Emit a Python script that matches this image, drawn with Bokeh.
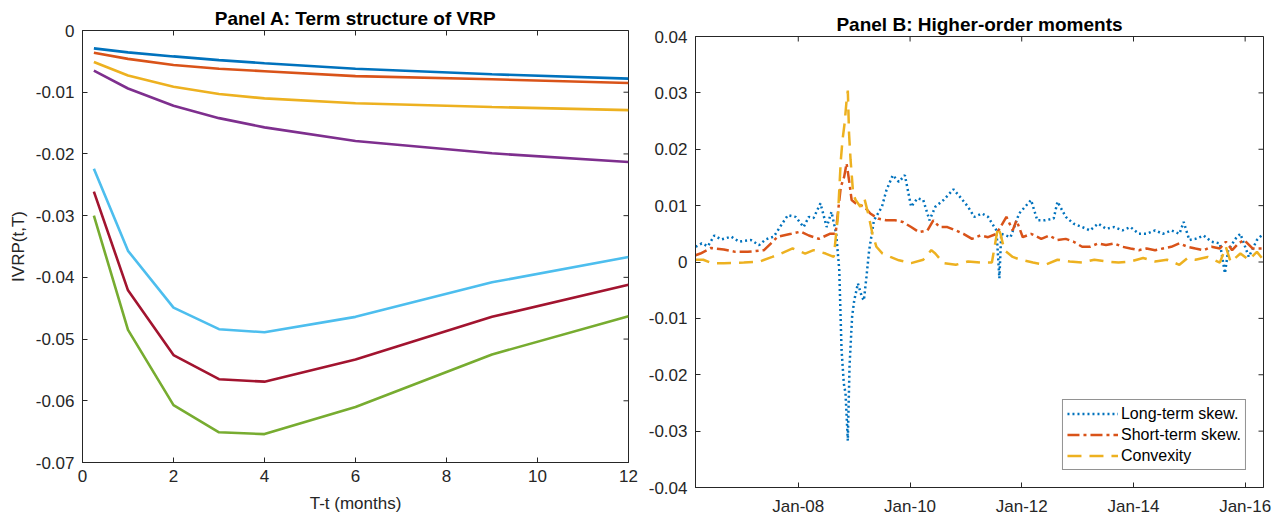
import math
import pandas as pd
from bokeh.plotting import figure
from bokeh.layouts import row, column
from bokeh.models import (FixedTicker, CustomJSTickFormatter, Range1d, Legend, LegendItem)
from bokeh.embed import file_html
from bokeh.resources import INLINE

FONT = "Liberation Sans"
INK = "#262626"

# ---------------- Panel A: term structure of the implied VRP ----------------
maturities = [0.25, 1, 2, 3, 4, 6, 9, 12]
ivrp_1 = [-0.0029, -0.00355, -0.0042, -0.0048, -0.0053, -0.0062, -0.0071, -0.0078]
ivrp_2 = [-0.0036, -0.0046, -0.0056, -0.0062, -0.0066, -0.0074, -0.0079, -0.0085]
ivrp_3 = [-0.0051, -0.0073, -0.0091, -0.0103, -0.0110, -0.0118, -0.0124, -0.0129]
ivrp_4 = [-0.0065, -0.0094, -0.0122, -0.0142, -0.0157, -0.0179, -0.0199, -0.0213]
ivrp_5 = [-0.0224, -0.0357, -0.0449, -0.0484, -0.0489, -0.0464, -0.0408, -0.0367]
ivrp_6 = [-0.0261, -0.0421, -0.0526, -0.0565, -0.0569, -0.0533, -0.0464, -0.0412]
ivrp_7 = [-0.0300, -0.0485, -0.0607, -0.0651, -0.0654, -0.0610, -0.0525, -0.0463]
curve_colors = ["#0072BD", "#D95319", "#EDB120", "#7E2F8E", "#4DBEEE", "#A2142F", "#77AC30"]
month_ticks = [0, 2, 4, 6, 8, 10, 12]
ivrp_ticks = [-0.07, -0.06, -0.05, -0.04, -0.03, -0.02, -0.01, 0.0]

# ---------------- Panel B: higher-order moments ----------------
lt_dates = ["2006-03-01", "2006-04-10", "2006-05-20", "2006-07-01", "2006-08-15", "2006-10-20",
            "2006-12-10", "2007-02-25", "2007-04-20", "2007-06-01", "2007-07-25", "2007-09-20",
            "2007-10-25", "2007-12-15", "2008-02-05", "2008-03-10", "2008-04-10", "2008-05-25",
            "2008-07-05", "2008-08-05", "2008-09-05", "2008-09-25", "2008-10-10", "2008-10-25",
            "2008-11-05", "2008-11-20", "2008-12-01", "2008-12-18", "2009-01-01", "2009-01-25",
            "2009-02-20", "2009-03-05", "2009-03-22", "2009-04-08", "2009-05-10", "2009-07-01",
            "2009-07-30", "2009-09-10", "2009-10-20", "2009-11-28", "2010-01-08", "2010-02-18",
            "2010-03-28", "2010-05-08", "2010-06-15", "2010-08-08", "2010-10-12", "2010-11-22",
            "2011-01-15", "2011-02-25", "2011-04-16", "2011-05-26", "2011-07-20", "2011-08-08",
            "2011-08-20", "2011-10-20", "2011-12-15", "2012-03-02", "2012-04-12", "2012-06-02",
            "2012-07-28", "2012-08-22", "2012-10-15", "2012-12-05", "2013-01-30", "2013-03-22",
            "2013-05-15", "2013-07-05", "2013-08-28", "2013-10-20", "2013-12-12", "2014-02-05",
            "2014-03-28", "2014-05-22", "2014-07-12", "2014-09-05", "2014-10-28", "2014-11-25",
            "2015-01-01", "2015-02-10", "2015-04-05", "2015-05-26", "2015-07-20", "2015-08-22",
            "2015-09-12", "2015-11-06", "2015-12-01", "2016-01-25", "2016-03-18", "2016-04-28"]
lt_skew = [0.0027, 0.0033, 0.0028, 0.0047, 0.0040, 0.0045,
           0.0036, 0.0039, 0.0030, 0.0040, 0.0045, 0.0069,
           0.0083, 0.0080, 0.0062, 0.0080, 0.0078, 0.0104,
           0.0062, 0.0089, 0.0050, -0.0014, -0.0156, -0.0216,
           -0.0233, -0.0317, -0.0186, -0.0097, -0.0068, -0.0038,
           -0.0062, -0.0068, -0.0026, 0.0020, 0.0074, 0.0098,
           0.0127, 0.0154, 0.0142, 0.0154, 0.0098, 0.0113,
           0.0110, 0.0074, 0.0098, 0.0110, 0.0129, 0.0116,
           0.0098, 0.0080, 0.0086, 0.0080, 0.0056, -0.0029,
           0.0050, 0.0044, 0.0086, 0.0110, 0.0074, 0.0074,
           0.0077, 0.0107, 0.0080, 0.0068, 0.0062, 0.0056,
           0.0068, 0.0059, 0.0062, 0.0056, 0.0062, 0.0050,
           0.0050, 0.0056, 0.0050, 0.0056, 0.0050, 0.0071,
           0.0039, 0.0041, 0.0047, 0.0036, 0.0033, -0.0020,
           0.0021, 0.0044, 0.0050, 0.0009, 0.0039, 0.0050]

st_dates = ["2006-03-01", "2006-04-01", "2006-06-10", "2006-09-01", "2006-11-15", "2007-02-05",
            "2007-05-22", "2007-08-20", "2007-11-15", "2008-01-18", "2008-03-10", "2008-05-15",
            "2008-07-25", "2008-09-01", "2008-10-05", "2008-10-27", "2008-11-12", "2008-11-28",
            "2008-12-15", "2009-01-10", "2009-03-08", "2009-04-16", "2009-06-06", "2009-07-30",
            "2009-09-25", "2009-11-15", "2010-01-08", "2010-02-28", "2010-04-25", "2010-06-02",
            "2010-07-12", "2010-09-02", "2010-10-27", "2010-12-16", "2011-02-10", "2011-04-05",
            "2011-05-26", "2011-07-20", "2011-09-23", "2011-11-03", "2011-11-28", "2012-01-08",
            "2012-03-02", "2012-05-08", "2012-06-28", "2012-08-22", "2012-10-15", "2012-12-05",
            "2013-01-30", "2013-03-22", "2013-05-15", "2013-07-05", "2013-08-28", "2013-10-20",
            "2013-12-12", "2014-02-05", "2014-03-28", "2014-05-22", "2014-07-12", "2014-09-05",
            "2014-10-28", "2014-12-20", "2015-02-10", "2015-04-05", "2015-05-26", "2015-07-20",
            "2015-08-28", "2015-10-08", "2015-11-18", "2015-12-25", "2016-02-18", "2016-04-28"]
st_skew = [0.0012, 0.0015, 0.0025, 0.0022, 0.0018, 0.0018,
           0.0021, 0.0045, 0.0050, 0.0054, 0.0047, 0.0041,
           0.0050, 0.0050, 0.0133, 0.0151, 0.0175, 0.0145,
           0.0110, 0.0104, 0.0098, 0.0086, 0.0077, 0.0074,
           0.0074, 0.0071, 0.0062, 0.0053, 0.0056, 0.0074,
           0.0062, 0.0062, 0.0056, 0.0050, 0.0041, 0.0047,
           0.0044, 0.0050, 0.0080, 0.0056, 0.0074, 0.0044,
           0.0050, 0.0041, 0.0047, 0.0039, 0.0041, 0.0036,
           0.0027, 0.0027, 0.0033, 0.0030, 0.0033, 0.0027,
           0.0024, 0.0021, 0.0024, 0.0021, 0.0024, 0.0027,
           0.0033, 0.0027, 0.0024, 0.0021, 0.0027, 0.0024,
           0.0036, 0.0021, 0.0033, 0.0039, 0.0024, 0.0024]

cx_dates = ["2006-03-01", "2006-04-20", "2006-06-15", "2006-09-01", "2007-01-10", "2007-04-25",
            "2007-07-15", "2007-09-10", "2007-11-25", "2008-02-15", "2008-04-10", "2008-06-28",
            "2008-08-20", "2008-09-16", "2008-10-05", "2008-10-16", "2008-10-30", "2008-11-12",
            "2008-11-20", "2008-11-28", "2008-12-08", "2008-12-25", "2009-01-10", "2009-02-10",
            "2009-03-08", "2009-04-02", "2009-04-30", "2009-05-26", "2009-07-05", "2009-08-25",
            "2009-10-20", "2010-01-08", "2010-03-28", "2010-05-20", "2010-06-15", "2010-08-08",
            "2010-10-27", "2011-01-15", "2011-04-05", "2011-06-20", "2011-07-30", "2011-08-15",
            "2011-09-10", "2011-11-03", "2011-12-25", "2012-03-15", "2012-06-02", "2012-08-22",
            "2012-11-10", "2013-01-30", "2013-04-20", "2013-07-05", "2013-09-25", "2013-12-12",
            "2014-03-05", "2014-05-22", "2014-08-08", "2014-10-28", "2014-12-20", "2015-02-10",
            "2015-05-01", "2015-07-20", "2015-08-28", "2015-09-28", "2015-12-01", "2016-01-25",
            "2016-03-18", "2016-04-28"]
convexity = [0.0004, 0.0004, -0.0002, -0.0002, -0.0001, 0.0001,
             0.0009, 0.0015, 0.0024, 0.0015, 0.0021, 0.0015,
             0.0009, 0.0080, 0.0180, 0.0216, 0.0246, 0.0287,
             0.0304, 0.0228, 0.0181, 0.0121, 0.0110, 0.0098,
             0.0113, 0.0086, 0.0050, 0.0027, 0.0015, 0.0009,
             0.0003, -0.0002, 0.0004, 0.0021, 0.0015, -0.0002,
             -0.0005, 0.0001, -0.0001, -0.0001, 0.0062, 0.0050,
             0.0021, 0.0009, 0.0004, -0.0001, -0.0005, 0.0004,
             0.0001, -0.0001, 0.0004, 0.0001, -0.0001, 0.0001,
             0.0007, 0.0001, 0.0004, -0.0005, 0.0007, 0.0004,
             0.0009, -0.0001, 0.0027, 0.0000, 0.0015, 0.0004,
             0.0018, 0.0004]
series_names = ["Long-term skew.", "Short-term skew.", "Convexity"]
series_colors = ["#0072BD", "#D95319", "#EDB120"]
series_dashes = ["2 3", "12 4 3 4", "14 8"]
year_ticks = ["2008-01-01", "2010-01-01", "2012-01-01", "2014-01-01", "2016-01-01"]
moment_ticks = [-0.04, -0.03, -0.02, -0.01, 0.0, 0.01, 0.02, 0.03, 0.04]
date_start, date_end = "2006-02-28", "2016-04-30"


def to_ms(s):
    return pd.Timestamp(s).value // 10**6


num_fmt = CustomJSTickFormatter(code="return Math.abs(tick) < 1e-9 ? '0' : tick.toFixed(2);")
date_fmt = CustomJSTickFormatter(code="""
const m = ['Jan','Feb','Mar','Apr','May','Jun','Jul','Aug','Sep','Oct','Nov','Dec'];
const d = new Date(tick);
return m[d.getUTCMonth()] + '-' + String(d.getUTCFullYear()).slice(2);
""")


def style_axis(ax):
    ax.axis_line_color = INK
    ax.major_tick_line_color = INK
    ax.major_tick_in = 5
    ax.major_tick_out = 0
    ax.minor_tick_line_color = None
    ax.major_label_text_font = FONT
    ax.major_label_text_font_size = "17px"
    ax.major_label_text_color = INK
    ax.axis_label_text_font = FONT
    ax.axis_label_text_font_size = "17px"
    ax.axis_label_text_font_style = "normal"
    ax.axis_label_text_color = INK


def box_ticks(p, xticks, yticks, x_end, y_end):
    # inward tick marks on the top and right edges of the frame (clipped to the frame)
    p.scatter(xticks, [y_end] * len(xticks), marker="dash", size=10, angle=math.pi / 2,
              line_color=INK, line_width=1)
    p.scatter([x_end] * len(yticks), yticks, marker="dash", size=10,
              line_color=INK, line_width=1)


def base_figure(width, **kw):
    p = figure(width=width, height=519, output_backend="svg", toolbar_location=None, **kw)
    p.grid.visible = False
    p.outline_line_color = INK
    p.background_fill_color = "white"
    p.border_fill_color = "white"
    p.title.text_font = FONT
    p.title.text_font_size = "19px"
    p.title.text_font_style = "bold"
    p.title.text_color = "#000000"
    p.title.align = "center"
    p.title.standoff = 4
    return p


# Panel A
pA = base_figure(645, x_range=Range1d(0, 12), y_range=Range1d(-0.07, 0),
                 min_border_left=82, min_border_right=17, min_border_top=30, min_border_bottom=57,
                 title="Panel A: Term structure of VRP")
for ys, c in zip([ivrp_1, ivrp_2, ivrp_3, ivrp_4, ivrp_5, ivrp_6, ivrp_7], curve_colors):
    pA.line(maturities, ys, line_color=c, line_width=2.6)
pA.xaxis.ticker = FixedTicker(ticks=month_ticks)
pA.yaxis.ticker = FixedTicker(ticks=ivrp_ticks)
pA.yaxis.formatter = num_fmt
pA.xaxis.axis_label = "T-t (months)"
pA.yaxis.axis_label = "IVRP(t,T)"
style_axis(pA.xaxis[0])
style_axis(pA.yaxis[0])
pA.xaxis.major_label_standoff = 7
pA.yaxis.major_label_standoff = 8
pA.xaxis.axis_label_standoff = 9
box_ticks(pA, month_ticks, ivrp_ticks, 12, 0)

# Panel B
x0, x1 = to_ms(date_start), to_ms(date_end)
pB = base_figure(637, x_range=Range1d(x0, x1), y_range=Range1d(-0.04, 0.04),
                 min_border_left=49, min_border_right=19, min_border_top=36, min_border_bottom=32,
                 title="Panel B: Higher-order moments")
renderers = []
for d, v, c, dash in zip([lt_dates, st_dates, cx_dates], [lt_skew, st_skew, convexity],
                         series_colors, series_dashes):
    r = pB.line(pd.to_datetime(d), v, line_color=c, line_width=2.5, line_dash=dash)
    renderers.append(r)
xt = [to_ms(s) for s in year_ticks]
pB.xaxis.ticker = FixedTicker(ticks=xt)
pB.xaxis.formatter = date_fmt
pB.yaxis.ticker = FixedTicker(ticks=moment_ticks)
pB.yaxis.formatter = num_fmt
style_axis(pB.xaxis[0])
style_axis(pB.yaxis[0])
pB.xaxis.major_label_standoff = 9
pB.yaxis.major_label_standoff = 8
box_ticks(pB, xt, moment_ticks, x1, 0.04)

legend = Legend(items=[LegendItem(label=n, renderers=[r]) for n, r in zip(series_names, renderers)],
                location="bottom_right")
legend.margin = 17
legend.padding = 4
legend.spacing = 2
legend.glyph_width = 51
legend.glyph_height = 19
legend.label_height = 19
legend.label_standoff = 3
legend.label_text_font = FONT
legend.label_text_font_size = "16px"
legend.label_text_color = "#000000"
legend.border_line_color = INK
legend.border_line_width = 1
legend.background_fill_alpha = 1
pB.add_layout(legend)

layout = row(column(pA), column(pB))
open("out.html", "w").write(file_html(layout, INLINE))
